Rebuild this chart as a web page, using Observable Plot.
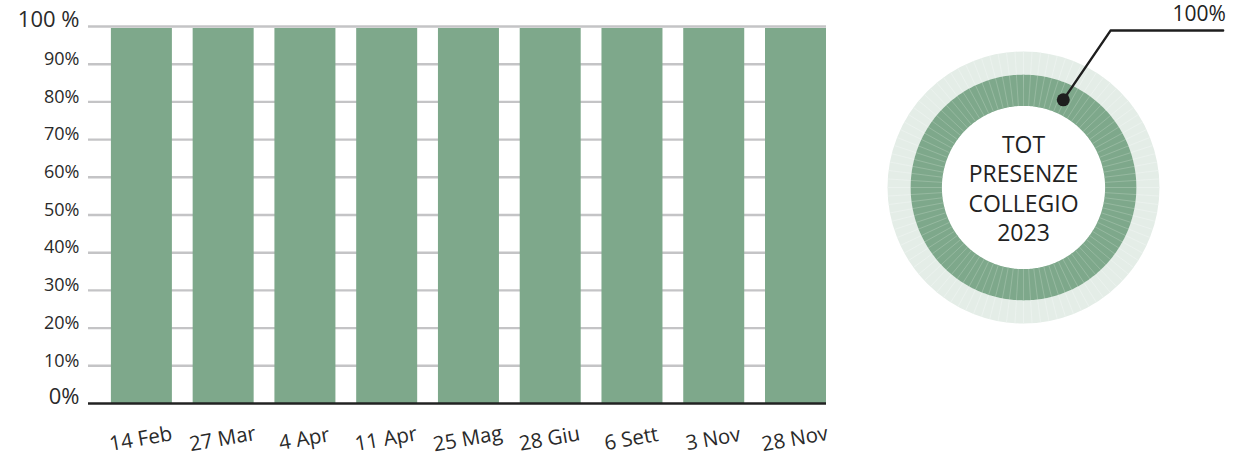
<!DOCTYPE html>
<html>
<head>
<meta charset="utf-8">
<script src="https://cdn.jsdelivr.net/npm/d3@7"></script>
<script src="https://cdn.jsdelivr.net/npm/@observablehq/plot@0.6"></script>
<style>
  html, body { margin: 0; padding: 0; background: #fff; }
  #wrap { position: relative; width: 1244px; height: 464px; overflow: hidden; font-family: "Open Sans", sans-serif; }
  #bars, #donut { position: absolute; top: 0; }
  #bars { left: 0; }
  #donut { left: 860px; }
  svg text { font-family: "Open Sans", sans-serif; }
</style>
</head>
<body>
<div id="wrap"><div id="bars"></div><div id="donut"></div></div>
<script>
// ---- data ----
const sessions = ["14 Feb", "27 Mar", "4 Apr", "11 Apr", "25 Mag", "28 Giu", "6 Sett", "3 Nov", "28 Nov"];
const presence = [100, 100, 100, 100, 100, 100, 100, 100, 100];
const yTicks = [0, 10, 20, 30, 40, 50, 60, 70, 80, 90, 100];
const yTickLabels = ["0%", "10%", "20%", "30%", "40%", "50%", "60%", "70%", "80%", "90%", "100 %"];
const totalPresence = 100;
const totalLabel = "100%";
const centerLabel = ["TOT", "PRESENZE", "COLLEGIO", "2023"];

const green = "#7ea88b";
const rows = sessions.map((s, i) => ({session: s, value: presence[i]}));
const ticks = yTicks.map((v, i) => ({v, label: yTickLabels[i], big: i === 0 || i === yTicks.length - 1}));

// ---- bar chart ----
const bars = Plot.plot({
  width: 860,
  height: 464,
  marginLeft: 88,
  marginRight: 34,
  marginTop: 26,
  marginBottom: 61,
  x: {type: "band", domain: sessions, paddingInner: 0.254, paddingOuter: 0.14, align: 1, round: false, axis: null},
  y: {domain: [0, 100], axis: null},
  marks: [
    Plot.ruleY(yTicks.filter(d => d > 0), {stroke: "#c4c4c6", strokeWidth: 2.4}),
    Plot.barY(rows, {x: "session", y: "value", fill: green, insetTop: 2}),
    Plot.ruleY([0], {stroke: "#222", strokeWidth: 2.6}),
    Plot.text(ticks.filter(d => !d.big), {y: "v", text: "label", frameAnchor: "left", dx: -9, dy: -5, textAnchor: "end", fontSize: 18, fill: "#2a2a2a"}),
    Plot.text(ticks.filter(d => d.big), {y: "v", text: "label", frameAnchor: "left", dx: -9, dy: -7, textAnchor: "end", fontSize: 22, fill: "#2a2a2a"}),
    Plot.text(rows, {x: "session", text: "session", frameAnchor: "bottom", dy: 42, rotate: -10, fontSize: 20.5, fill: "#2a2a2a"})
  ]
});
document.getElementById("bars").appendChild(bars);

// ---- donut ----
const k = 136; // px per radius unit
const W = 384, H = 464, cx = 163, cy = 187;
const rIn = 0.6, rMid = 0.83, rOut = 1.0;
const nSeg = 100;
const segs = d3.range(nSeg).map(i => ({a: (i / nSeg) * 2 * Math.PI}));
const arcPts = d3.range(0, Math.round(360 * totalPresence / 100) + 1).map(deg => {
  const a = deg * Math.PI / 180;
  const r = (rIn + rMid) / 2;
  return {x: r * Math.sin(a), y: r * Math.cos(a)};
});
// leader annotation
const leadAngle = 24.4 * Math.PI / 180, leadR = 0.708;
const p0 = {x: leadR * Math.sin(leadAngle), y: leadR * Math.cos(leadAngle)};
const p1 = {x: 0.64, y: 1.154};
const p2 = {x: 1.468, y: 1.154};

const donut = Plot.plot({
  width: W,
  height: H,
  margin: 0,
  x: {domain: [-cx / k, (W - cx) / k], axis: null},
  y: {domain: [-(H - cy) / k, cy / k], axis: null},
  marks: [
    Plot.dot([{x: 0, y: 0}], {x: "x", y: "y", r: (rMid + rOut) / 2 * k, stroke: "#e4ede7", strokeWidth: (rOut - rMid) * k, fill: "none"}),
    Plot.line(arcPts, {x: "x", y: "y", stroke: green, strokeWidth: (rMid - rIn) * k, strokeLinecap: "butt"}),
    Plot.link(segs, {x1: d => rMid * Math.sin(d.a), y1: d => rMid * Math.cos(d.a), x2: d => rOut * Math.sin(d.a), y2: d => rOut * Math.cos(d.a), stroke: "#eef4f0", strokeWidth: 0.7}),
    Plot.link(segs, {x1: d => rIn * Math.sin(d.a), y1: d => rIn * Math.cos(d.a), x2: d => rMid * Math.sin(d.a), y2: d => rMid * Math.cos(d.a), stroke: "#a0c0a9", strokeWidth: 0.7}),
    Plot.text([centerLabel.join("\n")], {x: 0, y: 0, text: d => d, fontSize: 23, lineHeight: 1.28, fill: "#222"}),
    Plot.line([p0, p1, p2], {x: "x", y: "y", stroke: "#1e1e1e", strokeWidth: 2.4}),
    Plot.dot([p0], {x: "x", y: "y", r: 6.5, fill: "#1e1e1e"}),
    Plot.text([totalLabel], {x: () => p2.x + 0.02, y: () => p2.y + 0.12, text: d => d, textAnchor: "end", fontSize: 21, fill: "#222"})
  ]
});
document.getElementById("donut").appendChild(donut);
</script>
</body>
</html>
